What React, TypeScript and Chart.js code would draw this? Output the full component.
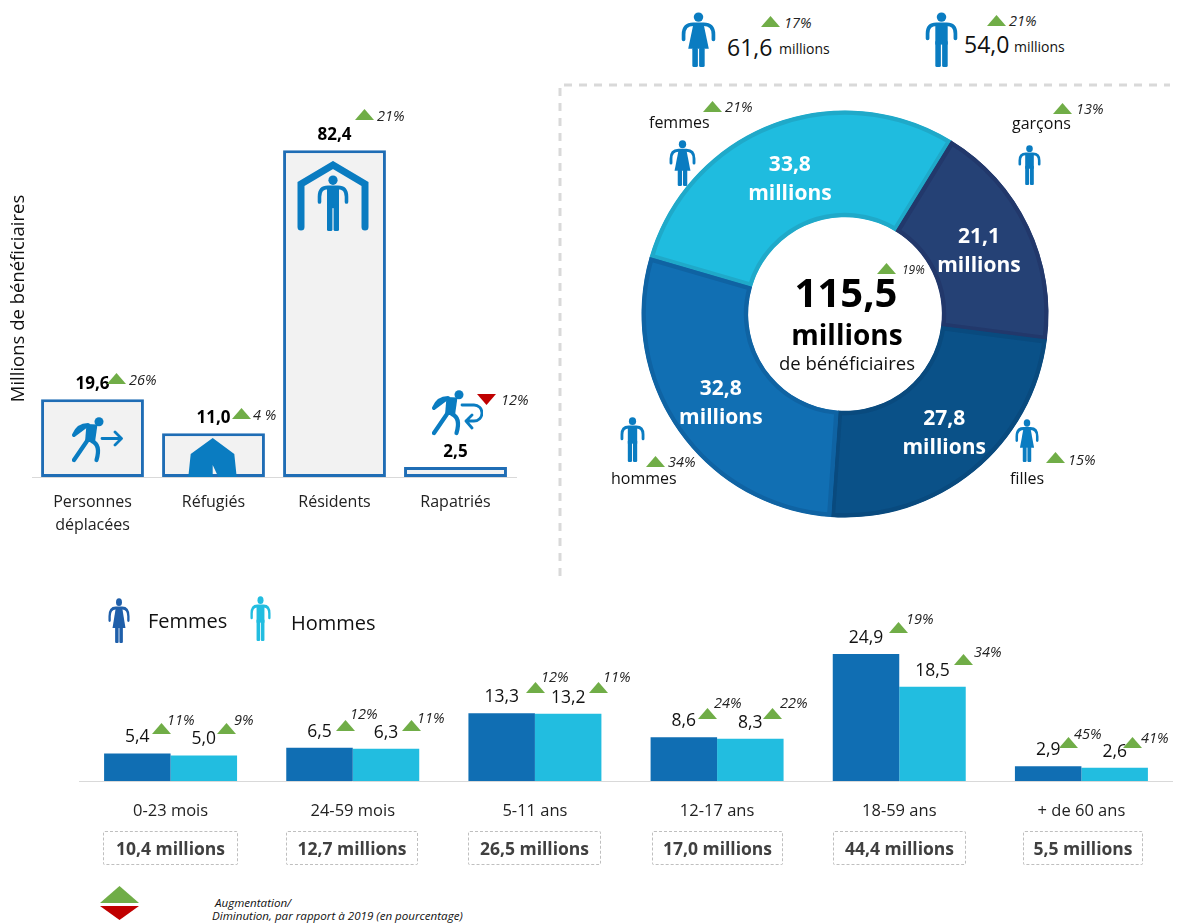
import React, { useEffect, useRef } from "react";
import { Chart, registerables } from "chart.js";

Chart.register(...registerables);

const FONT = "'Open Sans', 'Noto Sans', sans-serif";

// ---------- data ----------
const groupCategories = [["Personnes", "déplacées"], "Réfugiés", "Résidents", "Rapatriés"];
const groupValues = [19.6, 11.0, 82.4, 2.5];
const groupChanges = ["26%", "4 %", "21%", "12%"];
const groupDirections = ["up", "up", "up", "down"];

const sexCategories = ["femmes", "garçons", "filles", "hommes"];
const sexValues = [33.8, 21.1, 27.8, 32.8];
const sexChanges = ["21%", "13%", "15%", "34%"];

const ageCategories = ["0-23 mois", "24-59 mois", "5-11 ans", "12-17 ans", "18-59 ans", "+ de 60 ans"];
const ageFemmes = [5.4, 6.5, 13.3, 8.6, 24.9, 2.9];
const ageHommes = [5.0, 6.3, 13.2, 8.3, 18.5, 2.6];
const ageFemmesChanges = ["11%", "12%", "12%", "24%", "19%", "45%"];
const ageHommesChanges = ["9%", "11%", "11%", "22%", "34%", "41%"];
const ageTotals = ["10,4 millions", "12,7 millions", "26,5 millions", "17,0 millions", "44,4 millions", "5,5 millions"];

// ---------- layout (no data) ----------
const GREEN = "#70AD47";
const RED = "#C00000";
const ICON = "#0A7CC1";
const FEM = "#106EB3";
const HOM = "#22BDE0";

const groupNotePos = [[107, 373, 129, 380], [232, 408, 253, 415], [355, 109, 377, 116], [477, 394, 501, 400]];
const sexNotePos = [[703, 101, 725, 107], [1053, 103, 1076, 109], [1046, 452, 1068, 460], [646, 456, 668, 462]];
const sexLabelPos = [[649, 122], [1012, 123], [1010, 478], [611, 478]];
const ageFemNotePos = [[152, 723, 167, 720], [336, 720, 350, 714], [526, 682, 541, 677], [698, 708, 714, 703], [889, 622, 906, 619], [1059, 737, 1074, 734]];
const ageHomNotePos = [[217, 723, 234, 720], [402, 720, 417, 718], [589, 682, 603, 677], [763, 708, 780, 703], [954, 654, 974, 652], [1123, 737, 1141, 738]];
const ageBoxPos = [[103, 135], [286, 132], [468, 133], [652, 131], [833, 133], [1023, 120]];
const sexLabelOffsets = [[-1, 6], [-1.5, 3], [4, 4], [-1, 4]];

const fmt = (v: number) => v.toFixed(1).replace(".", ",");

const Txt = ({ x, y, size = 15, color = "#111", bold = false, italic = false, center = false, children }: any) => (
  <span
    style={{
      position: "absolute",
      left: x,
      top: y,
      transform: center ? "translate(-50%,-50%)" : "translateY(-50%)",
      fontFamily: FONT,
      fontSize: size,
      fontWeight: bold ? 700 : 400,
      fontStyle: italic ? "italic" : "normal",
      color,
      whiteSpace: "nowrap",
      lineHeight: 1,
    }}
  >
    {children}
  </span>
);

const Tri = ({ x, y, w = 19, h = 11, down = false, color }: any) => (
  <svg style={{ position: "absolute", left: x, top: y }} width={w} height={h} viewBox={`0 0 ${w} ${h}`}>
    <polygon
      points={down ? `0,0 ${w},0 ${w / 2},${h}` : `0,${h} ${w},${h} ${w / 2},0`}
      fill={color || (down ? RED : GREEN)}
    />
  </svg>
);

const Note = ({ p, label, down = false, size = 14.5 }: any) => (
  <>
    <Tri x={p[0]} y={p[1]} down={down} />
    <Txt x={p[2]} y={p[3]} size={size} italic color="#222">
      {label}
    </Txt>
  </>
);

const Man = ({ x, y, w, h, color = ICON }: any) => (
  <svg style={{ position: "absolute", left: x, top: y }} width={w} height={h} viewBox="0 0 32 54" preserveAspectRatio="none">
    <circle cx="16" cy="5" r="4.6" fill={color} />
    <path d="M2.5 26 V21 Q2.5 12 11 12 H21 Q29.5 12 29.5 21 V26" stroke={color} strokeWidth="3.6" fill="none" strokeLinecap="round" />
    <rect x="10" y="12" width="12" height="20" fill={color} />
    <rect x="10" y="28" width="5.4" height="26" rx="1.5" fill={color} />
    <rect x="16.6" y="28" width="5.4" height="26" rx="1.5" fill={color} />
  </svg>
);

const Woman = ({ x, y, w, h, color = ICON }: any) => (
  <svg style={{ position: "absolute", left: x, top: y }} width={w} height={h} viewBox="0 0 34 54" preserveAspectRatio="none">
    <circle cx="17" cy="5" r="4.6" fill={color} />
    <path d="M2.5 27 V22 Q2.5 12 12 12 H22 Q31.5 12 31.5 22 V27" stroke={color} strokeWidth="3.6" fill="none" strokeLinecap="round" />
    <polygon points="12,12 22,12 27,36 7,36" fill={color} />
    <rect x="11" y="35" width="5.4" height="19" rx="1.5" fill={color} />
    <rect x="17.6" y="35" width="5.4" height="19" rx="1.5" fill={color} />
  </svg>
);

const Walker = ({ children }: any) => (
  <>
    <circle cx="27" cy="4.8" r="4.5" fill={ICON} />
    <path d="M2 18 Q6 8 16 8 L14 9 Z" stroke={ICON} strokeWidth="4" fill="none" strokeLinecap="round" strokeLinejoin="round" />
    <polygon points="14.5,7 25.5,7.5 23,25 13,25" fill={ICON} />
    <path d="M15 24 L2 43" stroke={ICON} strokeWidth="4.2" fill="none" strokeLinecap="round" />
    <path d="M20 24 Q29 28 24.5 43" stroke={ICON} strokeWidth="4.2" fill="none" strokeLinecap="round" />
    {children}
  </>
);

const Tent = () => (
  <svg style={{ position: "absolute", left: 188, top: 438 }} width={50} height={39} viewBox="0 0 50 39">
    <path d="M24.7 0 L46.3 16 L48.7 39 H30.3 L24.7 27 V39 H0.3 L2.7 16 Z" fill={ICON} />
  </svg>
);

const House = () => (
  <svg style={{ position: "absolute", left: 297, top: 161 }} width={72} height={70} viewBox="0 0 72 70">
    <path d="M4 66 V23 L36 4 L68 23 V66" stroke={ICON} strokeWidth="7" fill="none" strokeLinecap="round" />
  </svg>
);

export default function App() {
  const leftRef = useRef<HTMLCanvasElement>(null);
  const ringRef = useRef<HTMLCanvasElement>(null);
  const ageRef = useRef<HTMLCanvasElement>(null);

  useEffect(() => {
    document.body.style.margin = "0";

    const left = new Chart(leftRef.current!, {
      type: "bar",
      data: {
        labels: groupCategories as any,
        datasets: [
          {
            data: groupValues,
            backgroundColor: "#F2F2F2",
            borderColor: "#1F6DB5",
            borderWidth: 3,
            borderSkipped: false,
            barPercentage: 0.85,
            categoryPercentage: 1,
          },
        ],
      },
      options: {
        animation: false,
        responsive: false,
        layout: { padding: { top: 20, right: 4 } },
        plugins: { legend: { display: false }, tooltip: { enabled: false } },
        scales: {
          x: {
            grid: { display: false, drawTicks: false },
            border: { color: "#D9D9D9" },
            afterFit: (s: any) => { s.height = 63; },
            ticks: { font: { family: FONT, size: 16, lineHeight: 1.42 }, color: "#222", padding: 14.5, maxRotation: 0, autoSkip: false },
          } as any,
          y: {
            min: 0,
            max: 90,
            afterFit: (s: any) => { s.width = 32; },
            grid: { display: false },
            border: { display: false },
            ticks: { display: false },
            title: { display: true, text: "Millions de bénéficiaires", font: { family: FONT, size: 18.5 }, color: "#111", padding: { top: 8, bottom: 0 } },
          } as any,
        },
      },
      plugins: [
        {
          id: "values",
          afterDatasetsDraw(c: any) {
            const ctx = c.ctx;
            ctx.save();
            ctx.font = `700 17px ${FONT}`;
            ctx.fillStyle = "#000";
            ctx.textAlign = "center";
            ctx.textBaseline = "middle";
            c.getDatasetMeta(0).data.forEach((b: any, i: number) => {
              ctx.fillText(fmt(groupValues[i]), b.x, b.y - 15);
            });
            ctx.restore();
          },
        },
      ],
    });

    const ring = new Chart(ringRef.current!, {
      type: "doughnut",
      data: {
        labels: sexCategories,
        datasets: [
          {
            data: sexValues,
            backgroundColor: ["#1FBCDF", "#254175", "#0A5188", "#116FB3"],
            borderColor: ["#1FA9C9", "#22386B", "#094A7E", "#0F63A3"],
            borderWidth: 4,
            borderAlign: "inner",
          } as any,
        ],
      },
      options: {
        animation: false,
        responsive: false,
        rotation: -73.8,
        radius: 203.5,
        cutout: "47.6%",
        plugins: { legend: { display: false }, tooltip: { enabled: false } },
      } as any,
      plugins: [
        {
          id: "ringLabels",
          afterDatasetsDraw(c: any) {
            const ctx = c.ctx;
            ctx.save();
            ctx.font = `700 21px ${FONT}`;
            ctx.fillStyle = "#fff";
            ctx.textAlign = "center";
            ctx.textBaseline = "middle";
            c.getDatasetMeta(0).data.forEach((a: any, i: number) => {
              const p = a.getCenterPoint();
              const [dx, dy] = sexLabelOffsets[i];
              ctx.fillText(fmt(sexValues[i]), p.x + dx, p.y + dy - 15);
              ctx.fillText("millions", p.x + dx, p.y + dy + 14);
            });
            ctx.restore();
          },
        },
      ],
    });

    const age = new Chart(ageRef.current!, {
      type: "bar",
      data: {
        labels: ageCategories,
        datasets: [
          { label: "Femmes", data: ageFemmes, backgroundColor: FEM, barPercentage: 1, categoryPercentage: 0.73 },
          { label: "Hommes", data: ageHommes, backgroundColor: HOM, barPercentage: 1, categoryPercentage: 0.73 },
        ],
      },
      options: {
        animation: false,
        responsive: false,
        layout: { padding: { left: 79.5, right: 4.5, top: 28 } },
        plugins: { legend: { display: false }, tooltip: { enabled: false } },
        scales: {
          x: {
            grid: { display: false, drawTicks: false },
            border: { color: "#D9D9D9" },
            afterFit: (s: any) => { s.height = 99; },
            ticks: { font: { family: FONT, size: 16.5 }, color: "#222", padding: 20.5, maxRotation: 0, autoSkip: false },
          } as any,
          y: { display: false, min: 0, max: 30 },
        },
      },
      plugins: [
        {
          id: "ageValues",
          afterDatasetsDraw(c: any) {
            const ctx = c.ctx;
            ctx.save();
            ctx.font = `400 17.5px ${FONT}`;
            ctx.fillStyle = "#111";
            ctx.textAlign = "center";
            ctx.textBaseline = "middle";
            [ageFemmes, ageHommes].forEach((vals, d) => {
              c.getDatasetMeta(d).data.forEach((b: any, i: number) => {
                ctx.fillText(fmt(vals[i]), b.x, b.y - 16);
              });
            });
            ctx.restore();
          },
        },
      ],
    });

    return () => {
      left.destroy();
      ring.destroy();
      age.destroy();
    };
  }, []);

  return (
    <div style={{ position: "relative", width: 1177, height: 924, overflow: "hidden", background: "#fff" }}>
      {/* separators */}
      <svg style={{ position: "absolute", left: 0, top: 0 }} width={1177} height={924}>
        <path d="M560 576 V85 H1170" stroke="#D9D9D9" strokeWidth="3" strokeDasharray="8 7" fill="none" />
      </svg>

      {/* doughnut side icons sit under the ring */}
      <Woman x={669} y={140} w={27} h={46} />
      <Man x={1018} y={145} w={23} h={40} />
      <Man x={620} y={417} w={25} h={45} />
      <Woman x={1015} y={419} w={24} h={43} />

      <canvas ref={leftRef} width={520} height={440} style={{ position: "absolute", left: 0, top: 100, width: 520, height: 440 }} />
      <canvas ref={ringRef} width={450} height={450} style={{ position: "absolute", left: 620, top: 89, width: 450, height: 450 }} />
      <canvas ref={ageRef} width={1177} height={280} style={{ position: "absolute", left: 0, top: 600, width: 1177, height: 280 }} />

      {/* bar icons */}
      <svg style={{ position: "absolute", left: 72, top: 417 }} width={51} height={46} viewBox="0 0 51 46">
        <Walker>
          <path d="M30 21.5 H49 M43 15 L49.5 21.5 L43 28" stroke={ICON} strokeWidth="2.8" fill="none" strokeLinecap="round" strokeLinejoin="round" />
        </Walker>
      </svg>
      <Tent />
      <House />
      <Man x={317} y={175} w={32} h={56} />
      <svg style={{ position: "absolute", left: 432, top: 390 }} width={51} height={47} viewBox="0 0 51 47">
        <Walker>
          <path d="M30 15 H42 A8 8 0 0 1 42 31 H34 M40 25 L34 31 L40 38" stroke={ICON} strokeWidth="2.8" fill="none" strokeLinecap="round" strokeLinejoin="round" />
        </Walker>
      </svg>

      {groupChanges.map((c, i) => (
        <Note key={i} p={groupNotePos[i]} label={c} down={groupDirections[i] === "down"} />
      ))}

      {/* top totals */}
      <Woman x={681} y={12} w={35} h={55} />
      <Man x={925} y={12} w={33} h={55} />
      <Note p={[761, 16, 784, 23]} label="17%" />
      <Note p={[987, 15, 1009, 21]} label="21%" />
      <Txt x={727} y={47} size={23}>61,6</Txt>
      <Txt x={779} y={49} size={14}>millions</Txt>
      <Txt x={964} y={44} size={23}>54,0</Txt>
      <Txt x={1014} y={47} size={14}>millions</Txt>

      {/* doughnut annotations */}
      {sexCategories.map((c, i) => (
        <React.Fragment key={c}>
          <Txt x={sexLabelPos[i][0]} y={sexLabelPos[i][1]} size={16}>{c}</Txt>
          <Note p={sexNotePos[i]} label={sexChanges[i]} />
        </React.Fragment>
      ))}
      <Txt x={846} y={292} size={40} bold center color="#000">115,5</Txt>
      <Txt x={847} y={334} size={28} bold center color="#000">millions</Txt>
      <Txt x={847} y={363} size={18.5} center>de bénéficiaires</Txt>
      <Note p={[877, 263, 902, 270]} label="19%" size={12} />

      {/* legend */}
      <Woman x={108} y={598} w={22} h={45} color="#1F5FAA" />
      <Man x={250} y={596} w={21} h={45} color={HOM} />
      <Txt x={148} y={621} size={20}>Femmes</Txt>
      <Txt x={291} y={623} size={20}>Hommes</Txt>

      {/* age notes and totals */}
      {ageFemmesChanges.map((c, i) => (
        <Note key={"f" + i} p={ageFemNotePos[i]} label={c} />
      ))}
      {ageHommesChanges.map((c, i) => (
        <Note key={"h" + i} p={ageHomNotePos[i]} label={c} />
      ))}
      {ageTotals.map((t, i) => (
        <div
          key={t}
          style={{
            position: "absolute",
            left: ageBoxPos[i][0],
            top: 831,
            width: ageBoxPos[i][1],
            height: 34,
            boxSizing: "border-box",
            border: "1px dashed #BFBFBF",
            borderRadius: 2,
            display: "flex",
            alignItems: "center",
            justifyContent: "center",
            fontFamily: FONT,
            fontWeight: 700,
            fontSize: 17.5,
            color: "#404040",
            whiteSpace: "nowrap",
          }}
        >
          {t}
        </div>
      ))}

      {/* key */}
      <Tri x={100} y={886} w={39} h={17} color={GREEN} />
      <Tri x={100} y={906} w={39} h={14} down color={RED} />
      <Txt x={215} y={903} size={11.6} italic>Augmentation/</Txt>
      <Txt x={212} y={916} size={11.6} italic>Diminution, par rapport à 2019 (en pourcentage)</Txt>
    </div>
  );
}
